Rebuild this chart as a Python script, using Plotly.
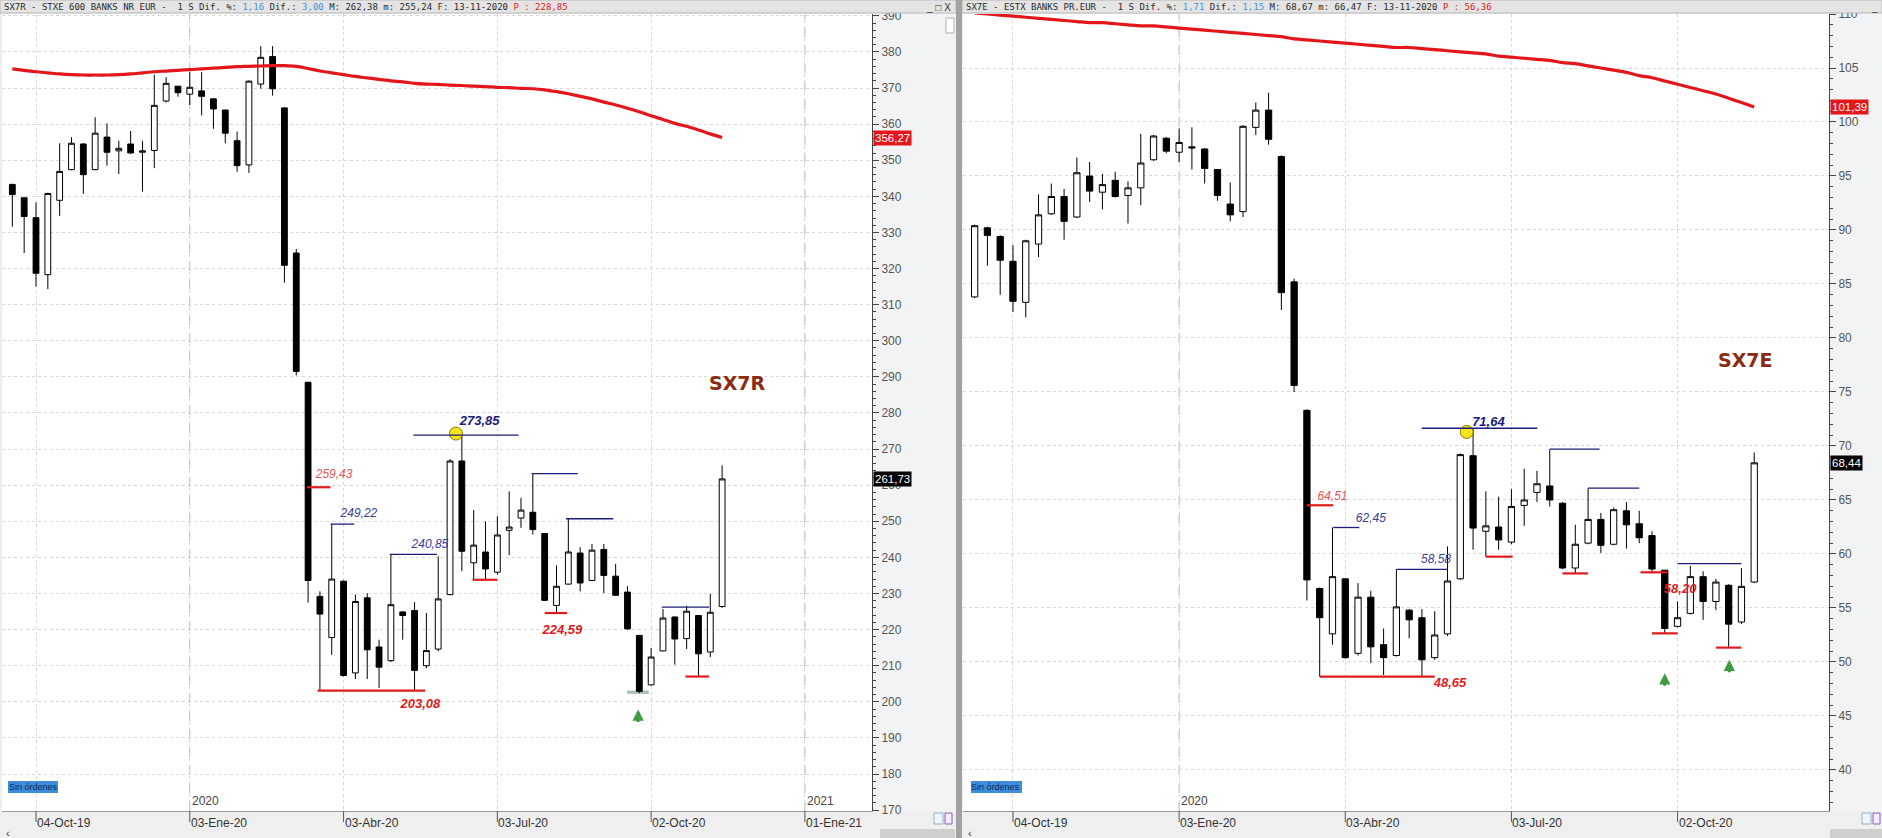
import pandas as pd
import plotly.graph_objects as go

# ---------------- data ----------------
# weekly candles, weeks ending on Friday; week 0 = 04-Oct-2019
sx7r_first_week = -2
sx7r_open = [343.3, 339.6, 334.1, 318.3, 338.9, 347.4, 354.5, 347.4, 356.4, 352.6,
             354.5, 352.2, 352.7, 366.4, 370.5, 368.3, 369.2, 367.0, 363.9, 355.4,
             348.7, 371.1, 378.7, 364.5, 324.3, 288.5, 229.2, 217.8, 233.4, 208.0,
             228.8, 215.2, 211.4, 224.9, 225.3, 210.0, 214.6, 229.7, 266.7, 238.5,
             241.5, 235.9, 247.5, 250.9, 252.5, 246.6, 226.7, 232.6, 241.2, 233.6,
             242.2, 234.8, 230.4, 218.4, 204.7, 214.1, 223.5, 217.5, 223.9, 213.8, 226.4]
sx7r_high = [343.5, 339.8, 338.3, 341.0, 354.7, 356.4, 354.7, 361.9, 360.2, 355.4,
             358.1, 355.4, 373.7, 373.0, 370.6, 374.4, 374.4, 367.2, 364.0, 357.9,
             372.1, 381.6, 381.6, 364.7, 325.4, 288.6, 230.6, 249.22, 233.6, 229.7,
             230.1, 217.2, 240.85, 225.0, 227.6, 224.6, 240.3, 267.2, 273.85, 253.1,
             250.0, 251.4, 258.3, 256.5, 263.2, 246.7, 237.8, 250.7, 242.8, 243.7,
             243.7, 238.2, 232.0, 218.5, 214.9, 225.7, 223.6, 226.6, 224.0, 229.9, 265.5]
sx7r_low = [331.6, 324.3, 315.0, 314.3, 334.6, 347.2, 340.7, 347.2, 348.5, 346.2,
            351.8, 341.3, 347.8, 366.0, 367.6, 365.3, 362.4, 358.7, 354.7, 346.8,
            346.5, 369.8, 367.9, 316.1, 290.4, 227.5, 203.08, 213.0, 207.0, 206.3,
            206.3, 203.8, 211.0, 217.2, 203.08, 209.3, 214.0, 229.5, 236.2, 233.8,
            233.8, 235.2, 240.6, 248.2, 246.3, 227.9, 224.59, 232.5, 230.6, 233.4,
            230.1, 229.4, 220.0, 202.4, 204.5, 214.0, 210.3, 214.6, 207.0, 212.4, 226.0]
sx7r_close = [340.5, 334.4, 318.7, 340.8, 346.9, 354.7, 346.0, 357.5, 352.2, 353.3,
              352.0, 352.6, 365.2, 371.3, 368.7, 370.2, 367.7, 364.2, 357.5, 348.5,
              371.9, 378.5, 369.8, 320.9, 291.5, 233.6, 224.3, 234.0, 207.3, 227.8,
              214.4, 209.6, 226.9, 223.9, 208.7, 214.2, 228.5, 266.7, 241.7, 243.4,
              236.8, 246.2, 248.4, 253.1, 247.7, 228.1, 232.0, 241.5, 232.9, 242.0,
              235.0, 229.5, 220.2, 202.9, 212.4, 223.2, 217.4, 225.1, 213.3, 224.8, 261.73]
sx7r_ma = [375.3, 374.9, 374.5, 374.2, 373.9, 373.7, 373.6, 373.6, 373.6, 373.7,
           373.9, 374.2, 374.5, 374.7, 374.9, 375.1, 375.3, 375.5, 375.7, 375.9,
           376.0, 376.1, 376.2, 376.2, 376.0, 375.4, 374.7, 374.2, 373.7, 373.2,
           372.8, 372.4, 372.0, 371.7, 371.3, 371.1, 371.0, 370.8, 370.7, 370.5,
           370.4, 370.2, 370.1, 369.9, 369.8, 369.5, 369.0, 368.4, 367.7, 367.0,
           366.1, 365.3, 364.4, 363.4, 362.3, 361.3, 360.2, 359.4, 358.4, 357.3, 356.27]

sx7e_first_week = -3
sx7e_open = [83.8, 90.2, 89.4, 87.1, 83.3, 88.7, 91.5, 93.1, 91.2, 95.0,
             93.5, 94.6, 93.2, 93.9, 96.5, 98.5, 97.2, 97.7, 97.5, 95.6,
             92.4, 91.7, 99.5, 101.1, 96.8, 85.2, 73.3, 56.8, 52.6, 57.7,
             50.8, 56.0, 51.6, 50.6, 54.8, 54.1, 50.4, 52.6, 57.7, 69.1,
             62.1, 62.5, 61.1, 64.5, 65.7, 66.3, 64.7, 58.7, 61.0, 63.2,
             60.9, 64.0, 62.8, 61.7, 58.5, 53.3, 54.5, 57.9, 55.6, 57.1, 53.7, 57.4]
sx7e_high = [90.5, 90.3, 89.5, 88.6, 89.1, 93.3, 94.3, 93.8, 96.7, 96.3,
             95.2, 95.4, 94.5, 98.9, 98.8, 98.6, 99.4, 99.5, 97.6, 95.6,
             94.4, 99.7, 101.8, 102.7, 96.9, 85.5, 73.4, 56.9, 62.45, 57.7,
             57.3, 56.6, 53.1, 58.58, 54.9, 54.9, 54.7, 60.7, 69.3, 71.64,
             65.8, 65.3, 66.0, 67.9, 67.7, 69.7, 64.8, 62.7, 66.1, 63.8,
             64.3, 64.8, 64.0, 62.1, 58.5, 55.6, 58.9, 58.4, 57.7, 57.2, 58.7, 69.4]
sx7e_low = [83.7, 86.7, 84.0, 82.4, 81.9, 87.5, 91.4, 89.1, 91.1, 92.6,
            91.9, 93.0, 90.6, 92.3, 96.4, 97.1, 96.3, 95.6, 94.3, 92.7,
            90.8, 91.2, 98.8, 97.9, 82.6, 75.0, 55.7, 48.65, 51.6, 50.3,
            50.6, 49.9, 48.8, 50.5, 52.2, 48.65, 50.2, 52.4, 57.6, 60.4,
            59.75, 60.4, 60.9, 62.6, 64.8, 64.4, 58.6, 58.2, 60.9, 60.1,
            60.8, 60.5, 61.0, 58.3, 52.65, 53.2, 54.4, 53.9, 54.8, 51.33, 53.5, 57.3]
sx7e_close = [90.4, 89.5, 87.2, 83.4, 89.0, 91.4, 93.1, 90.8, 95.3, 93.6,
              94.2, 93.1, 93.9, 96.2, 98.7, 97.3, 98.1, 97.6, 95.7, 93.2,
              91.4, 99.6, 101.1, 98.4, 84.2, 75.6, 57.6, 54.1, 57.9, 50.4,
              56.0, 51.4, 50.4, 55.1, 53.9, 50.2, 52.5, 57.5, 69.2, 62.4,
              62.6, 61.3, 64.4, 65.0, 66.5, 65.0, 58.7, 60.9, 63.2, 60.8,
              64.1, 62.7, 61.5, 58.6, 53.1, 54.1, 57.9, 55.6, 57.4, 53.5, 57.0, 68.44]
sx7e_ma = [110.1, 110.0, 109.9, 109.8, 109.7, 109.6, 109.5, 109.4, 109.3, 109.2,
           109.2, 109.1, 109.0, 108.9, 108.9, 108.8, 108.7, 108.6, 108.5, 108.4,
           108.3, 108.2, 108.1, 108.0, 107.9, 107.7, 107.6, 107.5, 107.4, 107.3,
           107.2, 107.1, 107.0, 106.9, 106.9, 106.8, 106.7, 106.6, 106.5, 106.4,
           106.3, 106.1, 106.0, 105.9, 105.8, 105.7, 105.5, 105.4, 105.2, 105.0,
           104.8, 104.6, 104.3, 104.1, 103.8, 103.5, 103.2, 102.9, 102.6, 102.2, 101.8, 101.39]

# quarter tick labels (week index from 04-Oct-2019)
tick_weeks = [0, 13, 26, 39, 52, 65]
tick_labels = ["04-Oct-19", "03-Ene-20", "03-Abr-20", "03-Jul-20", "02-Oct-20", "01-Ene-21"]
year_weeks = [13, 65]
year_labels = ["2020", "2021"]

# annotated levels: (value, start week, end week)
sx7r_res = [(273.85, 31.9, 40.8), (249.22, 24.9, 26.9), (240.85, 29.9, 33.9),
            (263.2, 41.9, 45.8), (250.7, 44.8, 48.8), (226.2, 52.9, 56.9)]
sx7r_sup = [(259.43, 22.9, 24.9), (203.08, 23.8, 32.9), (233.8, 36.9, 39.0),
            (224.59, 43.0, 44.9), (207.0, 54.9, 56.9)]
sx7e_res = [(71.64, 31.98, 41.03), (62.45, 25.06, 27.1), (58.58, 30.0, 34.0),
            (69.7, 42.0, 45.9), (66.1, 45.0, 49.0), (59.1, 52.0, 57.0)]
sx7e_sup = [(64.51, 22.98, 25.06), (48.65, 24.0, 33.0), (59.75, 37.0, 39.1),
            (58.2, 43.0, 45.0), (58.3, 49.1, 51.2), (52.65, 50.0, 52.0), (51.33, 55.0, 57.0)]

# value labels: (text, week, y, style)
sx7r_labels = [("273,85", 37.5, 277.5, "bnavy"), ("259,43", 25.2, 262.9, "lred"),
               ("249,22", 27.3, 252.1, "navy"), ("240,85", 33.3, 243.5, "navy"),
               ("203,08", 32.5, 199.2, "bred"), ("224,59", 44.5, 219.8, "bred")]
sx7e_labels = [("71,64", 37.2, 72.16, "bnavy"), ("64,51", 25.0, 65.3, "lred"),
               ("62,45", 28.0, 63.2, "navy"), ("58,58", 33.1, 59.44, "navy"),
               ("48,65", 34.2, 47.96, "bred"), ("58,20", 52.2, 56.7, "bred")]
sx7r_circle = (35.5, 274.3)
sx7e_circle = (35.5, 71.3)
sx7r_arrows = [(50.9, 197.9)]
sx7e_arrows = [(51.0, 48.95), (56.05, 50.2)]
sx7r_marker_box = (49.96, 51.8, 202.2, 203.1)

# ---------------- helpers ----------------
W, H = 1882, 838
BASE = pd.Timestamp("2019-10-04")


def wk(i):
    return BASE + pd.Timedelta(days=7 * i)


def px(x):
    return x / W


def py(y):
    return 1 - y / H


def fmt(v):
    return f"{v:.2f}".replace(".", ",")


NAVY = "#1c1c7a"
LNAVY = "#3b3b9a"
RED = "#e01b1b"
LRED = "#e25656"
style_map = {
    "bnavy": ("<b><i>{}</i></b>", NAVY, 13),
    "navy": ("<i>{}</i>", LNAVY, 12),
    "lred": ("<i>{}</i>", LRED, 12),
    "bred": ("<b><i>{}</i></b>", RED, 13),
}

fig = go.Figure()
shapes = []
annotations = []


def panel(xa, ya, first_week, o, h, l, c, ma, res, sup, labels, circle, arrows,
          name, name_pos, xr):
    dates = [wk(first_week + k) for k in range(len(o))]
    # labels first so that candles can overlap them
    for txt, w, yv, st in labels:
        tpl, col, sz = style_map[st]
        fig.add_trace(go.Scatter(x=[wk(w)], y=[yv], mode="text", text=[tpl.format(txt)],
                                 textfont=dict(color=col, size=sz, family="Liberation Sans"),
                                 xaxis=xa, yaxis=ya, hoverinfo="skip"))
    fig.add_trace(go.Candlestick(
        x=dates, open=o, high=h, low=l, close=c, xaxis=xa, yaxis=ya,
        increasing=dict(line=dict(color="black", width=1), fillcolor="white"),
        decreasing=dict(line=dict(color="black", width=1), fillcolor="black"),
        whiskerwidth=0, hoverinfo="skip"))
    fig.add_trace(go.Scatter(x=dates, y=ma, mode="lines", xaxis=xa, yaxis=ya,
                             line=dict(color="#e3161b", width=3.2, shape="spline"),
                             hoverinfo="skip"))
    fig.add_trace(go.Scatter(x=[wk(circle[0])], y=[circle[1]], mode="markers",
                             xaxis=xa, yaxis=ya, hoverinfo="skip",
                             marker=dict(size=13, color="#f4e41c",
                                         line=dict(color="#8c7a00", width=1))))
    for v, w0, w1 in res:
        shapes.append(dict(type="line", xref=xa, yref=ya, x0=wk(w0), x1=wk(w1),
                           y0=v, y1=v, line=dict(color=NAVY, width=1.3), layer="above"))
    for v, w0, w1 in sup:
        shapes.append(dict(type="line", xref=xa, yref=ya, x0=wk(w0), x1=wk(w1),
                           y0=v, y1=v, line=dict(color=RED, width=2.2), layer="above"))
    for w, yv in arrows:
        annotations.append(dict(xref=xa, yref=ya, x=wk(w), y=yv, text="",
                                showarrow=True, ax=0, ay=14, arrowhead=2, arrowsize=0.75,
                                arrowwidth=3, arrowcolor="#3f9b3f"))
    annotations.append(dict(xref=xa, yref=ya, x=wk(name_pos[0]), y=name_pos[1],
                            text="<b>" + name + "</b>", showarrow=False, yanchor="middle",
                            font=dict(family="DejaVu Sans", size=19, color="#8a2c12")))
    # grid year lines and bottom ticks
    for w, lab in zip(year_weeks, year_labels):
        if xr[0] < w < xr[1]:
            shapes.append(dict(type="line", xref=xa, yref="paper", x0=wk(w), x1=wk(w),
                               y0=py(811), y1=py(14), line=dict(color="#b4b4b4", width=1, dash="dash"),
                               layer="below"))
            annotations.append(dict(xref=xa, yref="paper", x=wk(w), y=py(801), text=lab,
                                    showarrow=False, xanchor="left", yanchor="middle",
                                    font=dict(size=12, color="#444")))
    for w, lab in zip(tick_weeks, tick_labels):
        if xr[0] < w < xr[1]:
            shapes.append(dict(type="line", xref=xa, yref="paper", x0=wk(w), x1=wk(w),
                               y0=py(811), y1=py(822), line=dict(color="#555", width=1)))
            annotations.append(dict(xref=xa, yref="paper", x=wk(w), y=py(823), text=lab,
                                    showarrow=False, xanchor="left", yanchor="middle", xshift=-1,
                                    font=dict(size=12, color="#333")))


L_RANGE = (-2.874, 70.67)
R_RANGE = (-3.91, 63.85)

panel("x", "y", sx7r_first_week, sx7r_open, sx7r_high, sx7r_low, sx7r_close, sx7r_ma,
      sx7r_res, sx7r_sup, sx7r_labels, sx7r_circle, sx7r_arrows, "SX7R", (59.3, 288.2), L_RANGE)
panel("x2", "y2", sx7e_first_week, sx7e_open, sx7e_high, sx7e_low, sx7e_close, sx7e_ma,
      sx7e_res, sx7e_sup, sx7e_labels, sx7e_circle, sx7e_arrows, "SX7E", (57.3, 78.0), R_RANGE)

# highlighted low box on SX7R
b = sx7r_marker_box
shapes.append(dict(type="rect", xref="x", yref="y", x0=wk(b[0]), x1=wk(b[1]), y0=b[2], y1=b[3],
                   fillcolor="#a9bdb9", line=dict(width=0), layer="below"))


# ---------------- window chrome (paper coordinates) ----------------
def prect(x0, y0, x1, y1, fill, line=None, layer="above"):
    shapes.append(dict(type="rect", xref="paper", yref="paper", x0=px(x0), x1=px(x1),
                       y0=py(y1), y1=py(y0), fillcolor=fill,
                       line=dict(width=1 if line else 0, color=line or fill), layer=layer))


def ptext(x, y, text, font, xanchor="left"):
    annotations.append(dict(xref="paper", yref="paper", x=px(x), y=py(y), text=text,
                            showarrow=False, xanchor=xanchor, yanchor="middle", font=font))


# axis areas
prect(872, 13, 956, 811, "#f2f3f5", layer="below")
prect(1829, 13, 1882, 811, "#f2f3f5", layer="below")
# header bars
prect(0, 0, 956, 13, "#e4e4e4", "#b8b8b8")
prect(962, 0, 1882, 13, "#e4e4e4", "#b8b8b8")
# bottom bar and scroll bar
prect(0, 811, 956, 838, "#efefef", layer="below")
prect(962, 811, 1882, 838, "#efefef", layer="below")
prect(880, 829, 955, 838, "#cfcfcf")
prect(1830, 829, 1882, 838, "#cfcfcf")
# splitter between the two windows
prect(956, 0, 962, 838, "#a2a2a2")
# sin ordenes buttons
prect(8, 781, 58, 793, "#3d8ddb")
prect(971, 781, 1022, 793, "#3d8ddb")
# small icons
prect(946, 18, 954, 33, "#ffffff", "#b0b0b0")
prect(934, 813, 943, 824, "#eef4fb", "#9bb0cc")
prect(945, 813, 952, 824, "#f4eefa", "#8a5bc0")
prect(1862, 813, 1871, 824, "#eef4fb", "#9bb0cc")
prect(1873, 813, 1880, 824, "#f4eefa", "#8a5bc0")

for x0 in (8, 971):
    ptext(x0 + 25, 787, "Sin órdenes", dict(size=9, color="#0c2a55", family="Liberation Sans"),
          xanchor="center")

hdr_font = dict(family="DejaVu Sans Mono", size=9, color="#2a2a2a")
blue = "#4a8fd6"
left_header = ('SX7R - STXE 600 BANKS NR EUR -  1 S Dif. %: '
               f'<span style="color:{blue}">1,16</span> Dif.: <span style="color:{blue}">3,00</span>'
               ' M: 262,38 m: 255,24 F: 13-11-2020 <span style="color:#e02020">P : 228,85</span>')
right_header = ('SX7E - ESTX BANKS PR.EUR -  1 S Dif. %: '
                f'<span style="color:{blue}">1,71</span> Dif.: <span style="color:{blue}">1,15</span>'
                ' M: 68,67 m: 66,47 F: 13-11-2020 <span style="color:#e02020">P : 56,36</span>')
ptext(2, 7, left_header, hdr_font)
ptext(964, 7, right_header, hdr_font)
ptext(953, 7, "_ □ X", dict(size=10, color="#333"), xanchor="right")
ptext(1880, 7, "_", dict(size=10, color="#333"), xanchor="right")
ptext(4, 833, "‹", dict(size=11, color="#333"))
ptext(966, 833, "‹", dict(size=11, color="#333"))

# price tags on the value axes
tags = [("y", 873, sx7r_ma[-1], "#e3161b"), ("y", 873, sx7r_close[-1], "#000000"),
        ("y2", 1830, sx7e_ma[-1], "#e3161b"), ("y2", 1830, sx7e_close[-1], "#000000")]
for yref, x0, v, col in tags:
    annotations.append(dict(xref="paper", yref=yref, x=px(x0), y=v, text=fmt(v),
                            showarrow=False, xanchor="left", yanchor="middle", bgcolor=col,
                            borderpad=1, font=dict(size=11.5, color="white", family="Liberation Sans")))

axis_common = dict(type="date", showticklabels=False, ticks="", showgrid=True,
                   gridcolor="#d6d6d6", griddash="dot", zeroline=False,
                   showline=True, linecolor="#9a9a9a", rangeslider=dict(visible=False),
                   fixedrange=True)
yaxis_common = dict(side="right", ticks="outside", ticklen=6, tickcolor="#444",
                    showline=True, linecolor="#444", linewidth=1, showgrid=True,
                    gridcolor="#d9d9d9", griddash="dot", zeroline=False, automargin=False,
                    tickfont=dict(size=12, color="#555", family="Liberation Sans"),
                    fixedrange=True)

fig.update_layout(
    width=W, height=H, margin=dict(l=0, r=0, t=0, b=0, pad=0, autoexpand=False),
    paper_bgcolor="#f0f0f0", plot_bgcolor="white", showlegend=False,
    font=dict(family="Liberation Sans, Arial, sans-serif", size=12, color="#333"),
    xaxis=dict(domain=[px(2), px(872)], range=[wk(L_RANGE[0]), wk(L_RANGE[1])], anchor="y",
               tickvals=[wk(w) for w in tick_weeks], **axis_common),
    yaxis=dict(domain=[py(811), py(14)], range=[169.76, 390.5], anchor="x", dtick=10,
               minor=dict(dtick=2, ticklen=3, ticks="outside", tickcolor="#444", showgrid=False),
               **yaxis_common),
    xaxis2=dict(domain=[px(963), px(1829)], range=[wk(R_RANGE[0]), wk(R_RANGE[1])], anchor="y2",
                tickvals=[wk(w) for w in tick_weeks[:5]], **axis_common),
    yaxis2=dict(domain=[py(811), py(14)], range=[36.2, 110.0], anchor="x2", dtick=5,
                minor=dict(dtick=1, ticklen=3, ticks="outside", tickcolor="#444", showgrid=False),
                **yaxis_common),
    shapes=shapes, annotations=annotations,
)

fig.write_html("out.html", config={"displayModeBar": False},
               post_script="document.body.style.margin='0px';document.body.style.overflow='hidden';")
